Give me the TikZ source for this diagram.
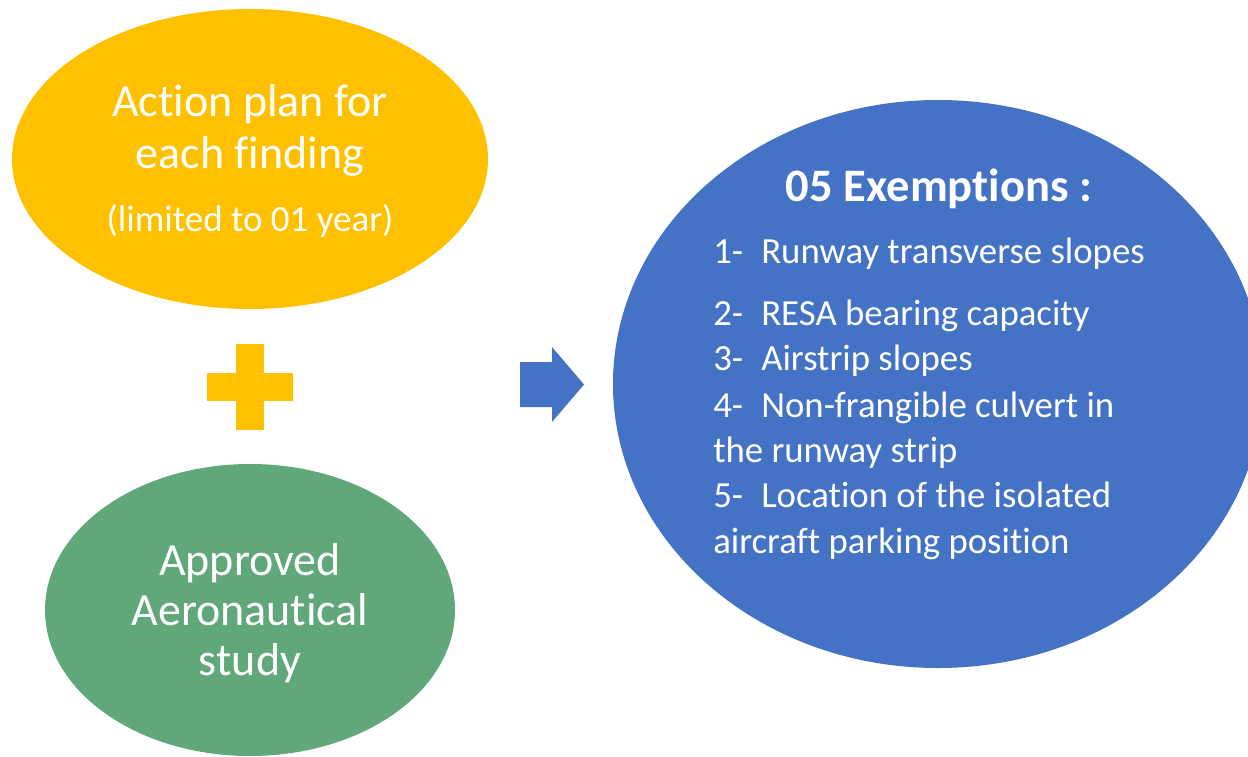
\documentclass[tikz,border=0pt]{standalone}
\usepackage{fontspec}
\setmainfont[Ligatures={NoCommon}]{Carlito}
\usetikzlibrary{shapes.geometric}
\definecolor{acyellow}{RGB}{255,192,0}
\definecolor{acgreen}{RGB}{96,167,122}
\definecolor{acblue}{RGB}{68,114,196}
\tikzstyle{bubble} = [ellipse, inner sep=0pt]
\tikzstyle{bigtext} = [anchor=base, text=white, inner sep=0pt, font=\fontsize{34.5}{38}\selectfont]
\tikzstyle{listtext} = [anchor=base west, text=white, inner sep=0pt, font=\fontsize{27.6}{34}\selectfont]
\newcommand{\exnum}[1]{\makebox[36pt][l]{#1}}

\begin{document}
\begin{tikzpicture}[x=0.75pt, y=-0.75pt]
\useasboundingbox (0,0) rectangle (1248,756);
\clip (0,0) rectangle (1248,756);

% Bubbles
\node[bubble, fill=acyellow, minimum width=357pt, minimum height=225pt] (plan) at (250,159) {};
\node[bubble, fill=acgreen, minimum width=307.5pt, minimum height=219pt] (study) at (250,610) {};
\node[bubble, fill=acblue, minimum width=487.5pt, minimum height=426pt] (exempt) at (938,384) {};

% Plus sign
\fill[acyellow] (236,344) rectangle (264,430);
\fill[acyellow] (207,373) rectangle (293,401);

% Block arrow
\fill[acblue] (520,362) -- (552,362) -- (552,347) -- (584,384.5) -- (552,422) -- (552,407) -- (520,407) -- cycle;

% Action plan text
\node[bigtext] (plan1) at (250,117) {Action plan for};
\node[bigtext] (plan2) at (250,168) {each finding};
\node[bigtext, font=\fontsize{27.75}{32}\selectfont] (plan3) at (250,231) {(limited to 01 year)};

% Study text
\node[bigtext] (study1) at (250,575) {Approved};
\node[bigtext] (study2) at (250,625) {Aeronautical};
\node[bigtext] (study3) at (250,675) {study};

% Exemptions list
\node[bigtext, font=\fontsize{34.9}{40}\selectfont\bfseries] (title) at (939,201) {05 Exemptions :};
\foreach \y/\txt [count=\i] in {263/{\exnum{1-}Runway transverse slopes},
    325/{\exnum{2-}RESA bearing capacity}, 370/{\exnum{3-}Airstrip slopes},
    417/{\exnum{4-}Non-frangible culvert in}, 462/{the runway strip},
    507/{\exnum{5-}Location of the isolated}, 553/{aircraft parking position}}
  \node[listtext] (item\i) at (713,\y) {\txt};
\end{tikzpicture}
\end{document}
